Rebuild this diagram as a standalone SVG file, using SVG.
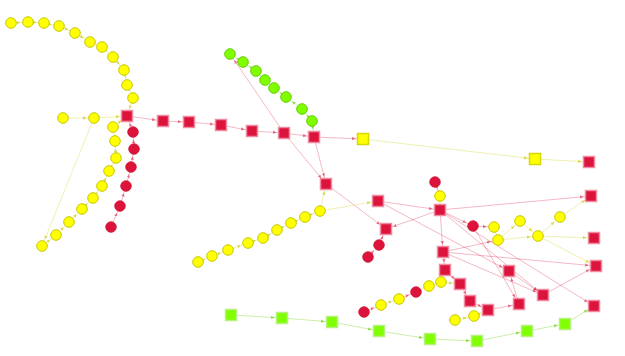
<svg xmlns="http://www.w3.org/2000/svg" width="625" height="356" viewBox="0 0 625 356">
<defs>
<style>
.bg{fill:#ffffff}
.ny{fill:#ffff00;stroke:#c8c800;stroke-width:1}
.nr{fill:#dc143c;stroke:#d01030;stroke-width:0.8}
.ng{fill:#7fff00;stroke:#66cc00;stroke-width:1}
.sr{fill:#dc143c;stroke:#f08aa0;stroke-width:1.5}
.sy{fill:#ffff00;stroke:#d8d800;stroke-width:1.5}
.sg{fill:#7fff00;stroke:#b8f080;stroke-width:1.5}
.er{stroke:#dc143c;stroke-opacity:0.3;stroke-width:1;fill:none;marker-end:url(#mr)}
.ey{stroke:#d6d640;stroke-opacity:0.4;stroke-width:1;fill:none;marker-end:url(#my)}
.eg{stroke:#8fdc40;stroke-opacity:0.45;stroke-width:1;fill:none;marker-end:url(#mg)}
</style>
<marker id="mr" viewBox="0 0 12 5" refX="11" refY="2.5" markerWidth="12" markerHeight="5" markerUnits="userSpaceOnUse" orient="auto"><path d="M0,0.8 L3.5,2.5 L0,4.2 z" fill="#dc143c" fill-opacity="0.55"/></marker>
<marker id="my" viewBox="0 0 12 5" refX="11" refY="2.5" markerWidth="12" markerHeight="5" markerUnits="userSpaceOnUse" orient="auto"><path d="M0,0.8 L3.5,2.5 L0,4.2 z" fill="#c8c800" fill-opacity="0.65"/></marker>
<marker id="mg" viewBox="0 0 12 5" refX="11" refY="2.5" markerWidth="12" markerHeight="5" markerUnits="userSpaceOnUse" orient="auto"><path d="M0,0.8 L3.5,2.5 L0,4.2 z" fill="#66cc00" fill-opacity="0.65"/></marker>
</defs>
<rect class="bg" x="0" y="0" width="625" height="356"/>
<g id="edges">
<line class="ey" x1="11" y1="23" x2="28" y2="22"/>
<line class="ey" x1="28" y1="22" x2="44" y2="23"/>
<line class="ey" x1="44" y1="23" x2="59" y2="26"/>
<line class="ey" x1="59" y1="26" x2="75" y2="33"/>
<line class="ey" x1="75" y1="33" x2="90" y2="42"/>
<line class="ey" x1="90" y1="42" x2="102" y2="47"/>
<line class="ey" x1="102" y1="47" x2="113" y2="57"/>
<line class="ey" x1="113" y1="57" x2="124" y2="70"/>
<line class="ey" x1="124" y1="70" x2="127" y2="85"/>
<line class="ey" x1="127" y1="85" x2="133" y2="98"/>
<line class="ey" x1="133" y1="98" x2="127" y2="116"/>
<line class="ey" x1="63" y1="118" x2="94" y2="118"/>
<line class="ey" x1="94" y1="118" x2="127" y2="116"/>
<line class="ey" x1="94" y1="118" x2="42" y2="246"/>
<line class="ey" x1="42" y1="246" x2="56" y2="235"/>
<line class="ey" x1="56" y1="235" x2="69" y2="222"/>
<line class="ey" x1="69" y1="222" x2="82" y2="209"/>
<line class="ey" x1="82" y1="209" x2="93" y2="198"/>
<line class="ey" x1="93" y1="198" x2="102" y2="186"/>
<line class="ey" x1="102" y1="186" x2="109" y2="171"/>
<line class="ey" x1="109" y1="171" x2="116" y2="158"/>
<line class="ey" x1="116" y1="158" x2="115" y2="141"/>
<line class="ey" x1="115" y1="141" x2="113" y2="127"/>
<line class="ey" x1="113" y1="127" x2="127" y2="116"/>
<line class="er" x1="127" y1="116" x2="163" y2="121"/>
<line class="er" x1="163" y1="121" x2="189" y2="122"/>
<line class="er" x1="189" y1="122" x2="221" y2="125"/>
<line class="er" x1="221" y1="125" x2="252" y2="131"/>
<line class="er" x1="252" y1="131" x2="284" y2="133"/>
<line class="er" x1="284" y1="133" x2="314" y2="137"/>
<line class="er" x1="314" y1="137" x2="363" y2="139"/>
<line class="er" x1="133" y1="132" x2="127" y2="116"/>
<line class="er" x1="134" y1="149" x2="133" y2="132"/>
<line class="er" x1="131" y1="167" x2="134" y2="149"/>
<line class="er" x1="126" y1="186" x2="131" y2="167"/>
<line class="er" x1="120" y1="206" x2="126" y2="186"/>
<line class="er" x1="111" y1="227" x2="120" y2="206"/>
<line class="er" x1="284" y1="133" x2="230" y2="54"/>
<line class="er" x1="284" y1="133" x2="326" y2="184"/>
<line class="er" x1="314" y1="137" x2="326" y2="184"/>
<line class="er" x1="326" y1="184" x2="386" y2="229"/>
<line class="er" x1="440" y1="210" x2="386" y2="229"/>
<line class="er" x1="368" y1="257" x2="379" y2="245"/>
<line class="er" x1="379" y1="245" x2="386" y2="229"/>
<line class="er" x1="378" y1="201" x2="440" y2="210"/>
<line class="er" x1="378" y1="201" x2="509" y2="271"/>
<line class="er" x1="435" y1="182" x2="440" y2="196"/>
<line class="er" x1="440" y1="210" x2="591" y2="196"/>
<line class="er" x1="440" y1="210" x2="473" y2="226"/>
<line class="er" x1="440" y1="210" x2="443" y2="252"/>
<line class="er" x1="440" y1="210" x2="543" y2="295"/>
<line class="er" x1="440" y1="210" x2="594" y2="306"/>
<line class="er" x1="473" y1="226" x2="494" y2="227"/>
<line class="er" x1="473" y1="226" x2="519" y2="304"/>
<line class="er" x1="443" y1="252" x2="445" y2="270"/>
<line class="er" x1="445" y1="270" x2="460" y2="284"/>
<line class="er" x1="460" y1="284" x2="470" y2="301"/>
<line class="er" x1="470" y1="301" x2="488" y2="310"/>
<line class="er" x1="488" y1="310" x2="519" y2="304"/>
<line class="er" x1="519" y1="304" x2="509" y2="271"/>
<line class="er" x1="443" y1="252" x2="498" y2="240"/>
<line class="er" x1="443" y1="252" x2="596" y2="266"/>
<line class="er" x1="443" y1="252" x2="543" y2="295"/>
<line class="er" x1="509" y1="271" x2="543" y2="295"/>
<line class="er" x1="543" y1="295" x2="596" y2="266"/>
<line class="er" x1="364" y1="312" x2="381" y2="305"/>
<line class="er" x1="399" y1="299" x2="416" y2="292"/>
<line class="ey" x1="198" y1="262" x2="212" y2="256"/>
<line class="ey" x1="212" y1="256" x2="228" y2="250"/>
<line class="ey" x1="228" y1="250" x2="248" y2="243"/>
<line class="ey" x1="248" y1="243" x2="263" y2="238"/>
<line class="ey" x1="263" y1="238" x2="277" y2="230"/>
<line class="ey" x1="277" y1="230" x2="291" y2="223"/>
<line class="ey" x1="291" y1="223" x2="305" y2="217"/>
<line class="ey" x1="305" y1="217" x2="320" y2="211"/>
<line class="ey" x1="320" y1="211" x2="326" y2="184"/>
<line class="ey" x1="320" y1="211" x2="378" y2="201"/>
<line class="ey" x1="363" y1="139" x2="535" y2="159"/>
<line class="ey" x1="535" y1="159" x2="589" y2="162"/>
<line class="ey" x1="440" y1="196" x2="440" y2="210"/>
<line class="ey" x1="494" y1="227" x2="498" y2="240"/>
<line class="ey" x1="498" y1="240" x2="520" y2="221"/>
<line class="ey" x1="520" y1="221" x2="538" y2="236"/>
<line class="ey" x1="498" y1="240" x2="538" y2="236"/>
<line class="ey" x1="538" y1="236" x2="560" y2="217"/>
<line class="ey" x1="560" y1="217" x2="591" y2="196"/>
<line class="ey" x1="538" y1="236" x2="594" y2="238"/>
<line class="ey" x1="538" y1="236" x2="596" y2="266"/>
<line class="ey" x1="381" y1="305" x2="399" y2="299"/>
<line class="ey" x1="416" y1="292" x2="429" y2="286"/>
<line class="ey" x1="429" y1="286" x2="441" y2="282"/>
<line class="ey" x1="441" y1="282" x2="460" y2="284"/>
<line class="ey" x1="455" y1="320" x2="474" y2="316"/>
<line class="ey" x1="474" y1="316" x2="488" y2="310"/>
<line class="eg" x1="243" y1="62" x2="230" y2="54"/>
<line class="eg" x1="256" y1="71" x2="243" y2="62"/>
<line class="eg" x1="265" y1="80" x2="256" y2="71"/>
<line class="eg" x1="274" y1="88" x2="265" y2="80"/>
<line class="eg" x1="286" y1="97" x2="274" y2="88"/>
<line class="eg" x1="302" y1="109" x2="286" y2="97"/>
<line class="eg" x1="312" y1="121" x2="302" y2="109"/>
<line class="eg" x1="312" y1="121" x2="314" y2="137"/>
<line class="eg" x1="231" y1="315" x2="282" y2="318"/>
<line class="eg" x1="282" y1="318" x2="332" y2="322"/>
<line class="eg" x1="332" y1="322" x2="379" y2="331"/>
<line class="eg" x1="379" y1="331" x2="430" y2="339"/>
<line class="eg" x1="430" y1="339" x2="477" y2="341"/>
<line class="eg" x1="477" y1="341" x2="527" y2="331"/>
<line class="eg" x1="527" y1="331" x2="565" y2="324"/>
<line class="eg" x1="565" y1="324" x2="594" y2="306"/>
</g>
<g id="y1"><circle class="ny" cx="11" cy="23" r="5.3"/></g>
<g id="y2"><circle class="ny" cx="28" cy="22" r="5.3"/></g>
<g id="y3"><circle class="ny" cx="44" cy="23" r="5.3"/></g>
<g id="y4"><circle class="ny" cx="59" cy="26" r="5.3"/></g>
<g id="y5"><circle class="ny" cx="75" cy="33" r="5.3"/></g>
<g id="y6"><circle class="ny" cx="90" cy="42" r="5.3"/></g>
<g id="y7"><circle class="ny" cx="102" cy="47" r="5.3"/></g>
<g id="y8"><circle class="ny" cx="113" cy="57" r="5.3"/></g>
<g id="y9"><circle class="ny" cx="124" cy="70" r="5.3"/></g>
<g id="y10"><circle class="ny" cx="127" cy="85" r="5.3"/></g>
<g id="y11"><circle class="ny" cx="133" cy="98" r="5.3"/></g>
<g id="y12"><circle class="ny" cx="63" cy="118" r="5.3"/></g>
<g id="y13"><circle class="ny" cx="94" cy="118" r="5.3"/></g>
<g id="y14"><circle class="ny" cx="113" cy="127" r="5.3"/></g>
<g id="y15"><circle class="ny" cx="115" cy="141" r="5.3"/></g>
<g id="y16"><circle class="ny" cx="116" cy="158" r="5.3"/></g>
<g id="y17"><circle class="ny" cx="109" cy="171" r="5.3"/></g>
<g id="y18"><circle class="ny" cx="102" cy="186" r="5.3"/></g>
<g id="y19"><circle class="ny" cx="93" cy="198" r="5.3"/></g>
<g id="y20"><circle class="ny" cx="82" cy="209" r="5.3"/></g>
<g id="y21"><circle class="ny" cx="69" cy="222" r="5.3"/></g>
<g id="y22"><circle class="ny" cx="56" cy="235" r="5.3"/></g>
<g id="y23"><circle class="ny" cx="42" cy="246" r="5.3"/></g>
<g id="r1"><circle class="nr" cx="133" cy="132" r="5.3"/></g>
<g id="r2"><circle class="nr" cx="134" cy="149" r="5.3"/></g>
<g id="r3"><circle class="nr" cx="131" cy="167" r="5.3"/></g>
<g id="r4"><circle class="nr" cx="126" cy="186" r="5.3"/></g>
<g id="r5"><circle class="nr" cx="120" cy="206" r="5.3"/></g>
<g id="r6"><circle class="nr" cx="111" cy="227" r="5.3"/></g>
<g id="s1"><rect class="sr" x="121.5" y="110.5" width="11" height="11"/></g>
<g id="s2"><rect class="sr" x="157.5" y="115.5" width="11" height="11"/></g>
<g id="s3"><rect class="sr" x="183.5" y="116.5" width="11" height="11"/></g>
<g id="s4"><rect class="sr" x="215.5" y="119.5" width="11" height="11"/></g>
<g id="s5"><rect class="sr" x="246.5" y="125.5" width="11" height="11"/></g>
<g id="s6"><rect class="sr" x="278.5" y="127.5" width="11" height="11"/></g>
<g id="s7"><rect class="sr" x="308.5" y="131.5" width="11" height="11"/></g>
<g id="s8"><rect class="sr" x="320.5" y="178.5" width="11" height="11"/></g>
<g id="s9"><rect class="sr" x="372.5" y="195.5" width="11" height="11"/></g>
<g id="s10"><rect class="sr" x="380.5" y="223.5" width="11" height="11"/></g>
<g id="s11"><rect class="sr" x="434.5" y="204.5" width="11" height="11"/></g>
<g id="s12"><rect class="sr" x="583.5" y="156.5" width="11" height="11"/></g>
<g id="s13"><rect class="sr" x="585.5" y="190.5" width="11" height="11"/></g>
<g id="s14"><rect class="sr" x="588.5" y="232.5" width="11" height="11"/></g>
<g id="s15"><rect class="sr" x="437.5" y="246.5" width="11" height="11"/></g>
<g id="s16"><rect class="sr" x="439.5" y="264.5" width="11" height="11"/></g>
<g id="s17"><rect class="sr" x="454.5" y="278.5" width="11" height="11"/></g>
<g id="s18"><rect class="sr" x="464.5" y="295.5" width="11" height="11"/></g>
<g id="s19"><rect class="sr" x="482.5" y="304.5" width="11" height="11"/></g>
<g id="s20"><rect class="sr" x="513.5" y="298.5" width="11" height="11"/></g>
<g id="s21"><rect class="sr" x="503.5" y="265.5" width="11" height="11"/></g>
<g id="s22"><rect class="sr" x="537.5" y="289.5" width="11" height="11"/></g>
<g id="s23"><rect class="sr" x="590.5" y="260.5" width="11" height="11"/></g>
<g id="s24"><rect class="sr" x="588.5" y="300.5" width="11" height="11"/></g>
<g id="ys1"><rect class="sy" x="357.5" y="133.5" width="11" height="11"/></g>
<g id="ys2"><rect class="sy" x="529.5" y="153.5" width="11" height="11"/></g>
<g id="g1"><circle class="ng" cx="230" cy="54" r="5.3"/></g>
<g id="g2"><circle class="ng" cx="243" cy="62" r="5.3"/></g>
<g id="g3"><circle class="ng" cx="256" cy="71" r="5.3"/></g>
<g id="g4"><circle class="ng" cx="265" cy="80" r="5.3"/></g>
<g id="g5"><circle class="ng" cx="274" cy="88" r="5.3"/></g>
<g id="g6"><circle class="ng" cx="286" cy="97" r="5.3"/></g>
<g id="g7"><circle class="ng" cx="302" cy="109" r="5.3"/></g>
<g id="g8"><circle class="ng" cx="312" cy="121" r="5.3"/></g>
<g id="gs1"><rect class="sg" x="225.5" y="309.5" width="11" height="11"/></g>
<g id="gs2"><rect class="sg" x="276.5" y="312.5" width="11" height="11"/></g>
<g id="gs3"><rect class="sg" x="326.5" y="316.5" width="11" height="11"/></g>
<g id="gs4"><rect class="sg" x="373.5" y="325.5" width="11" height="11"/></g>
<g id="gs5"><rect class="sg" x="424.5" y="333.5" width="11" height="11"/></g>
<g id="gs6"><rect class="sg" x="471.5" y="335.5" width="11" height="11"/></g>
<g id="gs7"><rect class="sg" x="521.5" y="325.5" width="11" height="11"/></g>
<g id="gs8"><rect class="sg" x="559.5" y="318.5" width="11" height="11"/></g>
<g id="y24"><circle class="ny" cx="198" cy="262" r="5.3"/></g>
<g id="y25"><circle class="ny" cx="212" cy="256" r="5.3"/></g>
<g id="y26"><circle class="ny" cx="228" cy="250" r="5.3"/></g>
<g id="y27"><circle class="ny" cx="248" cy="243" r="5.3"/></g>
<g id="y28"><circle class="ny" cx="263" cy="238" r="5.3"/></g>
<g id="y29"><circle class="ny" cx="277" cy="230" r="5.3"/></g>
<g id="y30"><circle class="ny" cx="291" cy="223" r="5.3"/></g>
<g id="y31"><circle class="ny" cx="305" cy="217" r="5.3"/></g>
<g id="y32"><circle class="ny" cx="320" cy="211" r="5.3"/></g>
<g id="r7"><circle class="nr" cx="368" cy="257" r="5.3"/></g>
<g id="r8"><circle class="nr" cx="379" cy="245" r="5.3"/></g>
<g id="r9"><circle class="nr" cx="435" cy="182" r="5.3"/></g>
<g id="r10"><circle class="nr" cx="473" cy="226" r="5.3"/></g>
<g id="r11"><circle class="nr" cx="364" cy="312" r="5.3"/></g>
<g id="r12"><circle class="nr" cx="416" cy="292" r="5.3"/></g>
<g id="y33"><circle class="ny" cx="440" cy="196" r="5.3"/></g>
<g id="y34"><circle class="ny" cx="494" cy="227" r="5.3"/></g>
<g id="y35"><circle class="ny" cx="498" cy="240" r="5.3"/></g>
<g id="y36"><circle class="ny" cx="520" cy="221" r="5.3"/></g>
<g id="y37"><circle class="ny" cx="538" cy="236" r="5.3"/></g>
<g id="y38"><circle class="ny" cx="560" cy="217" r="5.3"/></g>
<g id="y39"><circle class="ny" cx="381" cy="305" r="5.3"/></g>
<g id="y40"><circle class="ny" cx="399" cy="299" r="5.3"/></g>
<g id="y41"><circle class="ny" cx="429" cy="286" r="5.3"/></g>
<g id="y42"><circle class="ny" cx="441" cy="282" r="5.3"/></g>
<g id="y43"><circle class="ny" cx="455" cy="320" r="5.3"/></g>
<g id="y44"><circle class="ny" cx="474" cy="316" r="5.3"/></g>
</svg>
